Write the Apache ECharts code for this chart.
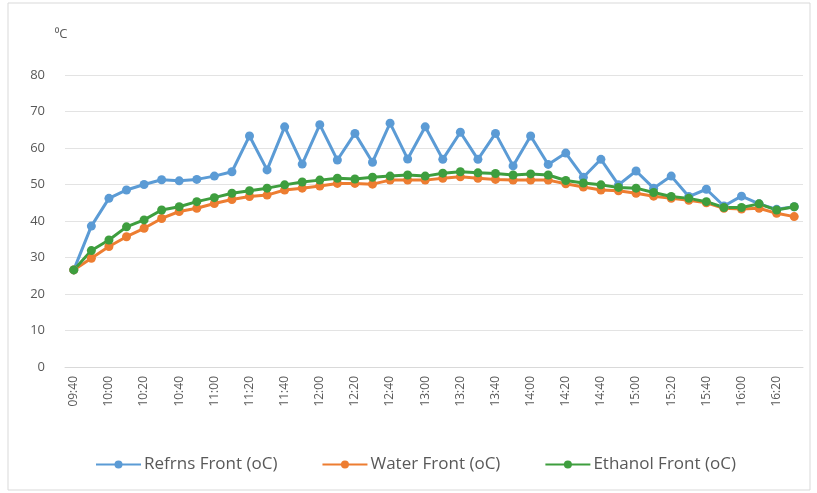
<!DOCTYPE html>
<html>
<head>
<meta charset="utf-8">
<script src="https://cdn.jsdelivr.net/npm/echarts@6/dist/echarts.min.js"></script>
<style>html,body{margin:0;padding:0;background:#fff;}#c{width:817px;height:493px;}</style>
</head>
<body>
<div id="c"></div>
<script>
var times = ['09:40','09:50','10:00','10:10','10:20','10:30','10:40','10:50','11:00','11:10',
  '11:20','11:30','11:40','11:50','12:00','12:10','12:20','12:30','12:40','12:50',
  '13:00','13:10','13:20','13:30','13:40','13:50','14:00','14:10','14:20','14:30',
  '14:40','14:50','15:00','15:10','15:20','15:30','15:40','15:50','16:00','16:10',
  '16:20','16:30'];
var refrnsFront = [26.6,38.6,46.2,48.5,50.0,51.3,51.0,51.4,52.3,53.5,
  63.3,54.0,65.8,55.6,66.4,56.7,64.0,56.1,66.8,57.0,
  65.8,56.9,64.3,56.9,64.0,55.1,63.3,55.5,58.6,52.0,
  56.9,49.9,53.7,49.0,52.3,46.7,48.7,44.1,46.8,44.7,
  43.2,43.9];
var waterFront = [26.6,29.8,33.0,35.7,38.0,40.7,42.6,43.5,44.8,45.9,
  46.7,47.1,48.5,49.0,49.6,50.3,50.3,50.1,51.2,51.2,
  51.2,51.7,52.1,51.7,51.4,51.2,51.2,51.2,50.2,49.3,
  48.5,48.3,47.6,46.8,46.2,45.7,45.0,43.5,43.3,43.5,
  42.1,41.2];
var ethanolFront = [26.6,31.9,34.8,38.4,40.3,43.0,43.9,45.3,46.4,47.6,
  48.3,49.0,49.9,50.7,51.2,51.7,51.5,52.0,52.3,52.6,
  52.3,53.1,53.5,53.2,53.0,52.6,52.9,52.6,51.1,50.4,
  49.9,49.2,49.0,47.8,46.7,46.2,45.3,43.7,43.7,44.7,
  43.0,43.9];
var yTicks = {min: 0, max: 80, interval: 10};
var seriesNames = ['Refrns Front (oC)', 'Water Front (oC)', 'Ethanol Front (oC)'];
var colors = ['#5B9BD5', '#ED7D31', '#3E9E3E'];

var chart = echarts.init(document.getElementById('c'), null, {renderer: 'canvas'});
function mk(name, data, color) {
  return {
    name: name, type: 'line', data: data,
    symbol: 'circle', symbolSize: 9, showSymbol: true,
    itemStyle: {color: color},
    lineStyle: {color: color, width: 3},
    emphasis: {disabled: true},
    animation: false
  };
}
chart.setOption({
  animation: false,
  backgroundColor: '#ffffff',
  textStyle: {fontFamily: 'Open Sans, Liberation Sans, sans-serif'},
  graphic: [{
    type: 'rect', shape: {x: 8, y: 3, width: 802, height: 487},
    style: {fill: 'none', stroke: '#d9d9d9', lineWidth: 1}, silent: true
  }],
  grid: {left: 65, right: 14, top: 75, bottom: 126, containLabel: false},
  legend: {
    data: seriesNames, top: 451, left: 90, itemWidth: 45, itemHeight: 10, itemGap: 44,
    textStyle: {color: '#595959', fontSize: 17, fontFamily: 'Open Sans, sans-serif', padding: [0, 0, 0, -2]}
  },
  xAxis: {
    type: 'category', data: times, boundaryGap: true,
    axisLine: {lineStyle: {color: '#d9d9d9'}},
    axisTick: {show: false},
    axisLabel: {interval: 1, rotate: 90, color: '#595959', fontSize: 12, margin: 9}
  },
  yAxis: {
    type: 'value', min: yTicks.min, max: yTicks.max, interval: yTicks.interval,
    name: '\u2070C', nameLocation: 'end', nameGap: 34,
    nameTextStyle: {color: '#595959', fontSize: 13, align: 'center', padding: [0, 0, 0, -8]},
    axisLine: {show: false}, axisTick: {show: false},
    axisLabel: {color: '#595959', fontSize: 13, margin: 20},
    splitLine: {lineStyle: {color: '#e3e3e3'}}
  },
  series: [
    mk(seriesNames[0], refrnsFront, colors[0]),
    mk(seriesNames[1], waterFront, colors[1]),
    mk(seriesNames[2], ethanolFront, colors[2])
  ]
});
</script>
</body>
</html>
